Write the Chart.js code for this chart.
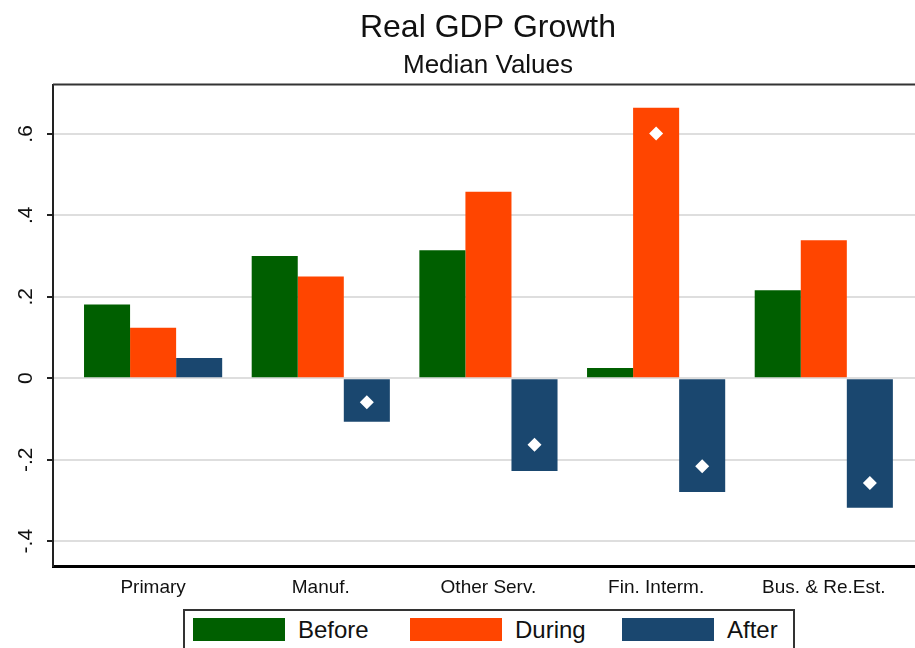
<!DOCTYPE html>
<html>
<head>
<meta charset="utf-8">
<title>Real GDP Growth</title>
<script src="https://cdn.jsdelivr.net/npm/chart.js@4.4.1/dist/chart.umd.min.js"></script>
<style>
  html, body { margin: 0; padding: 0; background: #fff; overflow: hidden; }
  #wrap { position: relative; width: 915px; height: 648px; overflow: hidden; }
  #chart { display: block; }
  #legend {
    position: absolute; left: 183px; top: 609px;
    display: flex; align-items: center;
    border: 2px solid #333; background: #fff;
    padding: 7px 15px 20px 8px;
    font: 24px 'Liberation Sans', Arial, sans-serif; color: #111;
  }
  #legend .item { display: flex; align-items: center; }
  #legend .item:nth-child(1) { width: 217px; }
  #legend .item:nth-child(2) { width: 212px; }
  #legend .swatch { width: 92px; height: 23px; margin-right: 13px; }
  #legend .text { line-height: 23px; }
</style>
</head>
<body>
<div id="wrap">
  <canvas id="chart" width="976" height="648"></canvas>
  <div id="legend"></div>
</div>
<script>
const categories = ['Primary', 'Manuf.', 'Other Serv.', 'Fin. Interm.', 'Bus. & Re.Est.'];
const before = [0.181, 0.300, 0.314, 0.025, 0.216];
const during = [0.124, 0.250, 0.458, 0.664, 0.339];
const after = [0.050, -0.107, -0.228, -0.279, -0.318];
// white diamonds sitting on some of the bars
const duringMarks = [null, null, null, 0.601, null];
const afterMarks = [null, -0.059, -0.163, -0.216, -0.257];
const yTicks = [-0.4, -0.2, 0, 0.2, 0.4, 0.6];

const colors = { before: '#005f00', during: '#ff4500', after: '#1a476f' };
const catPct = 0.824;
const barUnit = catPct / 3; // one bar width in category units

Chart.defaults.font.family = "'Liberation Sans', Arial, sans-serif";
Chart.defaults.color = '#111';

const frame = {
    id: 'frame',
    afterDraw(chart) {
        const { ctx, chartArea: a } = chart;
        ctx.save();
        ctx.strokeStyle = '#333';
        ctx.lineWidth = 2;
        ctx.beginPath();
        ctx.moveTo(a.left, a.top);
        ctx.lineTo(a.right, a.top);
        ctx.stroke();
        ctx.restore();
    }
};

const toPoints = (arr, shift) => arr.map((v, i) => ({ x: i + 1 + shift, y: v }));

const markStyle = {
    type: 'line',
    showLine: false,
    pointStyle: 'rectRot',
    pointRadius: 7,
    pointHoverRadius: 7,
    pointBackgroundColor: '#fff',
    pointBorderWidth: 0,
    order: 0
};

const chart = new Chart(document.getElementById('chart'), {
    type: 'bar',
    data: {
        datasets: [
            { label: 'Before', data: toPoints(before, 0), backgroundColor: colors.before, order: 1 },
            { label: 'During', data: toPoints(during, 0), backgroundColor: colors.during, order: 1 },
            { label: 'After', data: toPoints(after, 0), backgroundColor: colors.after, order: 1 },
            { ...markStyle, label: 'During mark', data: toPoints(duringMarks, 0) },
            { ...markStyle, label: 'After mark', data: toPoints(afterMarks, barUnit) }
        ]
    },
    options: {
        responsive: false,
        animation: false,
        devicePixelRatio: 1,
        categoryPercentage: catPct,
        barPercentage: 1,
        layout: { padding: { left: 0, right: 0, top: 0, bottom: 42 } },
        plugins: {
            title: {
                display: true,
                text: 'Real GDP Growth',
                font: { size: 32, weight: 'normal' },
                color: '#111',
                padding: { top: 9, bottom: 0 }
            },
            subtitle: {
                display: true,
                text: 'Median Values',
                font: { size: 26, weight: 'normal' },
                color: '#111',
                padding: { top: 3, bottom: 3 }
            },
            legend: { display: false },
            tooltip: { enabled: false }
        },
        scales: {
            x: {
                type: 'linear',
                offset: false,
                min: 0.403,
                max: 5.866,
                afterBuildTicks: s => { s.ticks = categories.map((c, i) => ({ value: i + 1 })); },
                afterFit: s => { s.height = 40; },
                border: { color: '#000', width: 3 },
                grid: { drawOnChartArea: false, drawTicks: false },
                ticks: {
                    autoSkip: false,
                    maxRotation: 0,
                    padding: 10,
                    font: { size: 19 },
                    color: '#111',
                    callback: v => categories[v - 1]
                }
            },
            y: {
                min: -0.461,
                max: 0.721,
                afterBuildTicks: s => { s.ticks = yTicks.map(v => ({ value: v })); },
                afterFit: s => { s.width = 53; },
                border: { color: '#222', width: 2 },
                grid: { color: '#dedede', lineWidth: 2, tickColor: '#222', tickLength: 6, tickWidth: 2 },
                ticks: {
                    minRotation: 90,
                    maxRotation: 90,
                    crossAlign: 'center',
                    padding: 9,
                    font: { size: 21 },
                    color: '#111',
                    callback: v => v === 0 ? '0' : v.toFixed(1).replace('0.', '.')
                }
            }
        }
    },
    plugins: [frame]
});

// Stata-style boxed legend, built from the bar datasets
const legendEl = document.getElementById('legend');
chart.data.datasets.filter(ds => ds.type !== 'line').forEach(ds => {
    const item = document.createElement('div');
    item.className = 'item';
    const sw = document.createElement('span');
    sw.className = 'swatch';
    sw.style.background = ds.backgroundColor;
    const tx = document.createElement('span');
    tx.className = 'text';
    tx.textContent = ds.label;
    item.append(sw, tx);
    legendEl.appendChild(item);
});
</script>
</body>
</html>
